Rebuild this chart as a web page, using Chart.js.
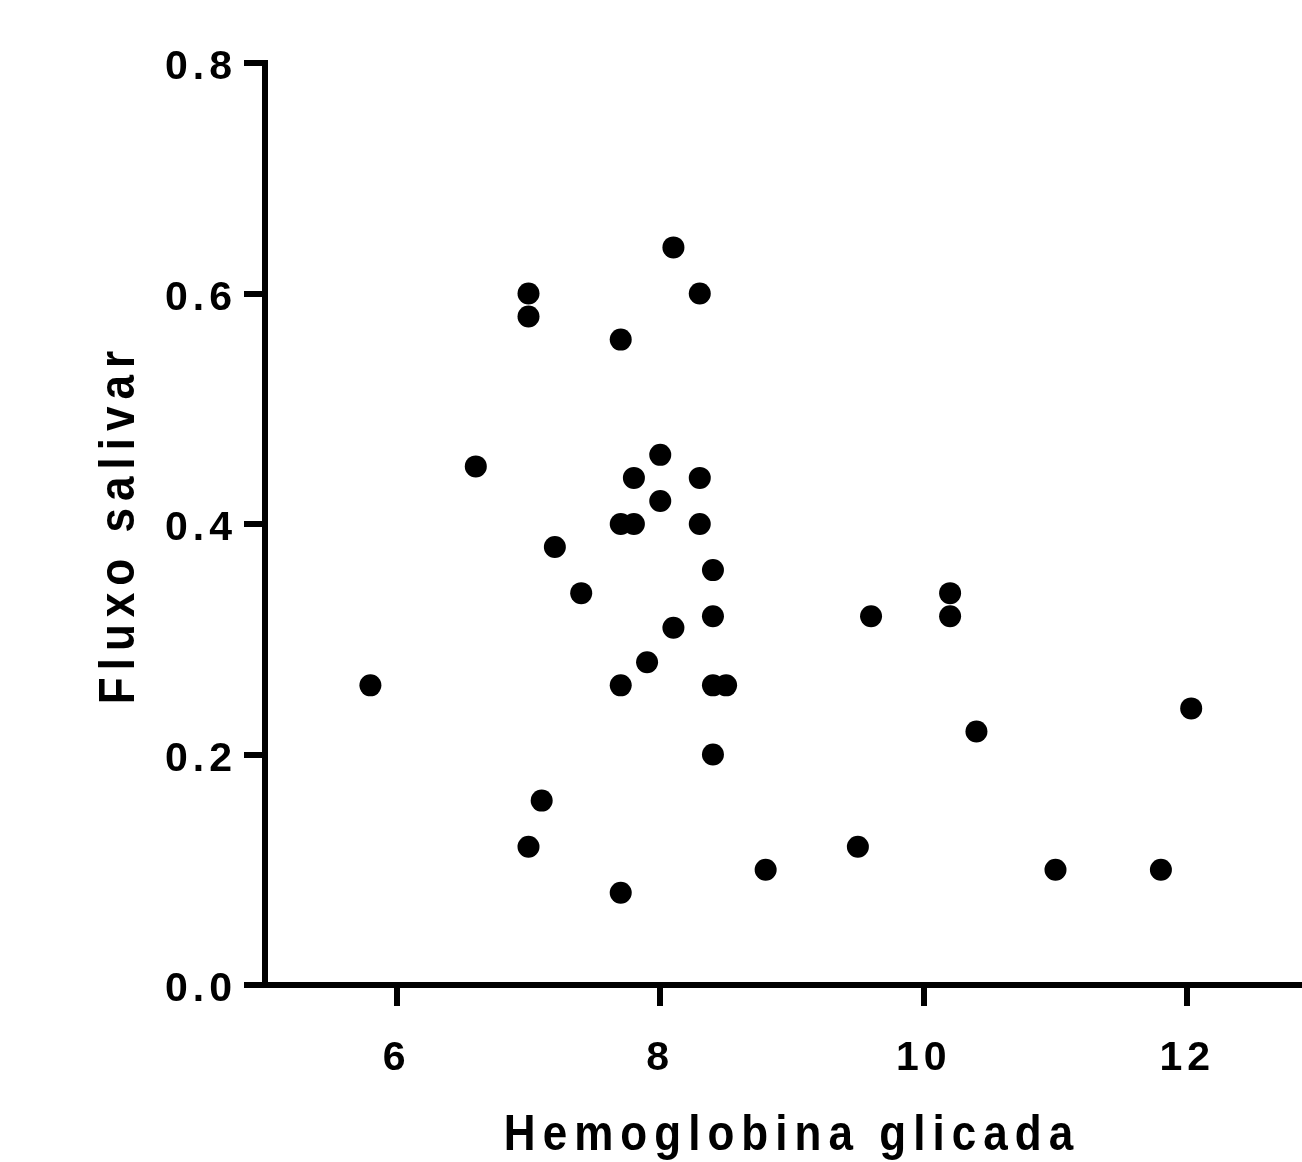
<!DOCTYPE html>
<html lang="pt">
<head>
<meta charset="utf-8">
<title>Fluxo salivar x Hemoglobina glicada</title>
<script src="https://cdn.jsdelivr.net/npm/chart.js@4/dist/chart.umd.min.js"></script>
<style>
  html, body { margin: 0; padding: 0; background: #fff; overflow: hidden; }
  canvas { display: block; }
</style>
</head>
<body>
<canvas id="scatter" width="1319" height="1162"></canvas>
<script>
const hemoglobina = [
  5.8, 6.6, 7.0, 7.0, 7.0, 7.1, 7.2, 7.4, 7.7, 7.7, 7.7, 7.7,
  7.8, 7.8, 7.9, 8.0, 8.0, 8.1, 8.1, 8.3, 8.3, 8.3, 8.4, 8.4,
  8.4, 8.5, 8.4, 8.8, 9.5, 9.6, 10.2, 10.2, 10.4, 11.0, 11.8, 12.03
];
const fluxo = [
  0.26, 0.45, 0.60, 0.58, 0.12, 0.16, 0.38, 0.34, 0.56, 0.40, 0.26, 0.08,
  0.44, 0.40, 0.28, 0.46, 0.42, 0.64, 0.31, 0.60, 0.44, 0.40, 0.36, 0.32,
  0.26, 0.26, 0.20, 0.10, 0.12, 0.32, 0.34, 0.32, 0.22, 0.10, 0.10, 0.24
];
const xTicks = [6, 8, 10, 12];
const yTicks = [0.0, 0.2, 0.4, 0.6, 0.8];

const tickFont = { family: '"Liberation Sans", Arial, sans-serif', size: 41, weight: 'bold', lineHeight: 1 };
const titleFont = { family: '"Liberation Sans", Arial, sans-serif', size: 50, weight: 'bold', lineHeight: 1 };
const titleSqueeze = 0.88;

function withSpacing(ctx, spacing, draw) {
  const previous = ctx.letterSpacing;
  ctx.letterSpacing = spacing;
  draw();
  ctx.letterSpacing = previous || '0px';
}

// Chart.js has no letter-spacing option, so wrap the scale text drawing.
// Titles are also squeezed a bit along the text direction (condensed look).
const letterSpacingPlugin = {
  id: 'letterSpacing',
  beforeDraw(chart) {
    Object.values(chart.scales).forEach((scale) => {
      if (scale._spaced) {
        return;
      }
      scale._spaced = true;
      const ctx = scale.ctx;
      const drawTitle = scale.drawTitle.bind(scale);
      const drawLabels = scale.drawLabels.bind(scale);
      scale.drawTitle = () => {
        ctx.save();
        if (scale.isHorizontal()) {
          const cx = (scale.left + scale.right) / 2;
          ctx.translate(cx, 0);
          ctx.scale(titleSqueeze, 1);
          ctx.translate(-cx, 0);
        } else {
          const cy = (scale.top + scale.bottom) / 2;
          ctx.translate(0, cy);
          ctx.scale(1, titleSqueeze);
          ctx.translate(0, -cy);
        }
        withSpacing(ctx, '8px', drawTitle);
        ctx.restore();
      };
      scale.drawLabels = (area) => withSpacing(ctx, '5px', () => drawLabels(area));
    });
  }
};

const axisGrid = {
  display: true,
  drawOnChartArea: false,
  drawTicks: true,
  tickLength: 21,
  lineWidth: 6,
  color: '#000'
};
const axisBorder = { display: true, color: '#000', width: 6 };

const points = hemoglobina.map((x, i) => ({ x, y: fluxo[i] }));

new Chart(document.getElementById('scatter'), {
  type: 'scatter',
  data: {
    datasets: [
      {
        data: points,
        backgroundColor: '#000',
        borderWidth: 0,
        pointRadius: 11,
        pointHoverRadius: 11
      }
    ]
  },
  options: {
    responsive: false,
    animation: false,
    events: [],
    layout: { autoPadding: false, padding: { top: 63, right: 0, bottom: 0, left: 0 } },
    plugins: {
      legend: { display: false },
      tooltip: { enabled: false }
    },
    scales: {
      x: {
        type: 'linear',
        min: 5,
        max: 13,
        grid: axisGrid,
        border: axisBorder,
        afterBuildTicks(scale) {
          scale.ticks = xTicks.map((value) => ({ value }));
        },
        afterFit(scale) {
          scale.height = 177;
        },
        ticks: {
          color: '#000',
          font: tickFont,
          padding: 32,
          maxRotation: 0,
          callback: (value) => String(value)
        },
        title: {
          display: true,
          text: 'Hemoglobina glicada',
          color: '#000',
          font: titleFont,
          padding: { top: 0, bottom: 1 }
        }
      },
      y: {
        type: 'linear',
        min: 0,
        max: 0.8,
        grid: axisGrid,
        border: axisBorder,
        afterBuildTicks(scale) {
          scale.ticks = yTicks.map((value) => ({ value }));
        },
        afterFit(scale) {
          scale.width = 265;
        },
        ticks: {
          color: '#000',
          font: tickFont,
          padding: 7,
          labelOffset: 5,
          callback: (value) => Number(value).toFixed(1)
        },
        title: {
          display: true,
          text: 'Fluxo salivar',
          color: '#000',
          font: titleFont,
          padding: { top: 95, bottom: 0 }
        }
      }
    }
  },
  plugins: [letterSpacingPlugin]
});
</script>
</body>
</html>
